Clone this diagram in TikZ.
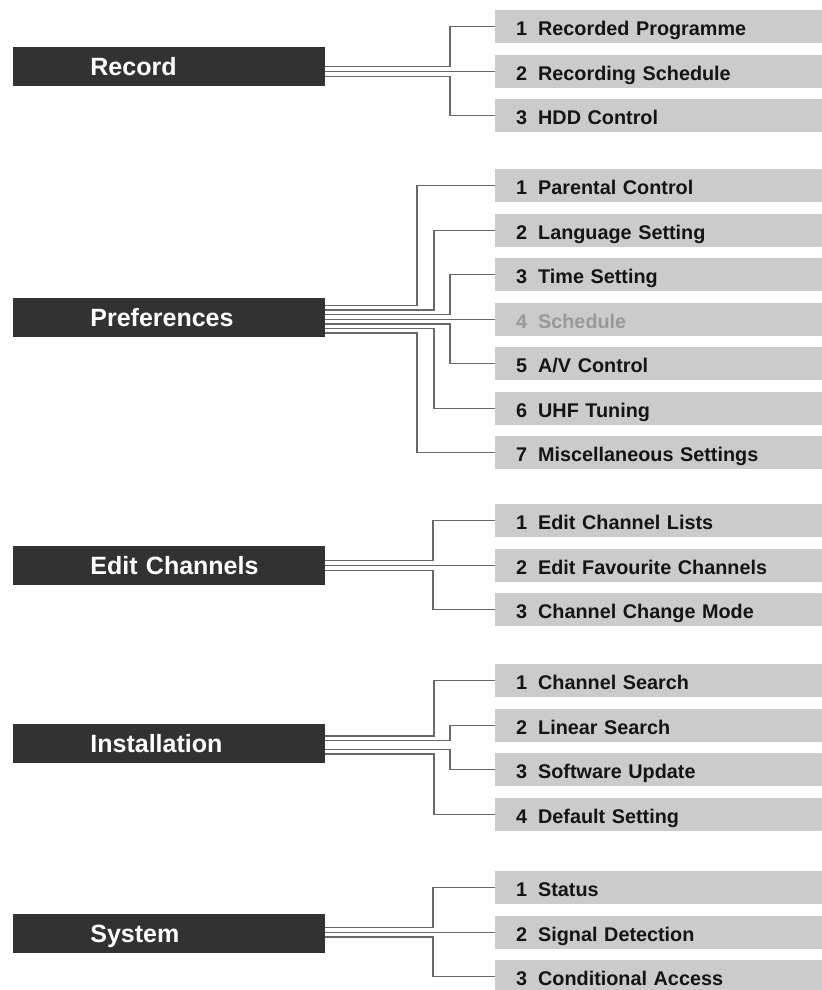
\documentclass[tikz,border=0pt]{standalone}
\usepackage{fontspec}
\setmainfont{Liberation Sans}
\usetikzlibrary{calc}
\definecolor{darkfill}{HTML}{323232}
\definecolor{greyfill}{HTML}{CBCBCB}
\definecolor{connline}{HTML}{686868}
\definecolor{dimtext}{HTML}{999999}
\definecolor{itemtext}{HTML}{141414}
\newcommand{\mnuitem}[2]{\hspace*{21.5bp}\makebox[22bp][l]{#1}#2}
\tikzset{
  darkbox/.style={anchor=north west, fill=darkfill, text=white, inner xsep=0pt, inner ysep=0pt,
    minimum height=38.7bp, text width=312.3bp, align=left,
    font=\fontsize{25bp}{27bp}\selectfont\bfseries, text height=18bp, text depth=0bp},
  greybox/.style={anchor=north west, fill=greyfill, text=itemtext, inner xsep=0pt, inner ysep=0pt,
    minimum height=33bp, text width=327.5bp, align=left,
    font=\fontsize{19.8bp}{21bp}\selectfont\bfseries, text height=18bp, text depth=0bp},
  conn/.style={draw=connline, line width=1.4bp}
}
\begin{document}
\begin{tikzpicture}[x=1bp,y=-1bp]
\useasboundingbox[fill=white] (0,0) rectangle (822,990);

% ---------- Record ----------
\node[darkbox] (rec) at (12.7,47) {\hspace*{77.5bp}Record};
\node[greybox] (r1) at (494.5,10) {\mnuitem{1}{Recorded Programme}};
\node[greybox] (r2) at (494.5,54.5) {\mnuitem{2}{Recording Schedule}};
\node[greybox] (r3) at (494.5,99) {\mnuitem{3}{HDD Control}};
\draw[conn] ($(rec.east |- r2.west)+(0,-5)$) -| ($(r1.west)+(-44.5,0)$) -- (r1.west);
\draw[conn] (rec.east |- r2.west) -- (r2.west);
\draw[conn] ($(rec.east |- r2.west)+(0,5)$) -| ($(r3.west)+(-44.5,0)$) -- (r3.west);

% ---------- Preferences ----------
\node[darkbox] (pref) at (12.7,298) {\hspace*{77.5bp}Preferences};
\node[greybox] (p1) at (494.5,169) {\mnuitem{1}{Parental Control}};
\node[greybox] (p2) at (494.5,213.5) {\mnuitem{2}{Language Setting}};
\node[greybox] (p3) at (494.5,258) {\mnuitem{3}{Time Setting}};
\node[greybox, text=dimtext] (p4) at (494.5,302.5) {\mnuitem{4}{Schedule}};
\node[greybox] (p5) at (494.5,347) {\mnuitem{5}{A/V Control}};
\node[greybox] (p6) at (494.5,391.5) {\mnuitem{6}{UHF Tuning}};
\node[greybox] (p7) at (494.5,436) {\mnuitem{7}{Miscellaneous Settings}};
\draw[conn] ($(pref.east |- p4.west)+(0,-13.8)$) -| ($(p1.west)+(-77.5,0)$) -- (p1.west);
\draw[conn] ($(pref.east |- p4.west)+(0,-9.2)$) -| ($(p2.west)+(-60.5,0)$) -- (p2.west);
\draw[conn] ($(pref.east |- p4.west)+(0,-4.6)$) -| ($(p3.west)+(-44.5,0)$) -- (p3.west);
\draw[conn] (pref.east |- p4.west) -- (p4.west);
\draw[conn] ($(pref.east |- p4.west)+(0,4.6)$) -| ($(p5.west)+(-44.5,0)$) -- (p5.west);
\draw[conn] ($(pref.east |- p4.west)+(0,9.2)$) -| ($(p6.west)+(-60.5,0)$) -- (p6.west);
\draw[conn] ($(pref.east |- p4.west)+(0,13.8)$) -| ($(p7.west)+(-77.5,0)$) -- (p7.west);

% ---------- Edit Channels ----------
\node[darkbox] (edit) at (12.7,545.7) {\hspace*{77.5bp}Edit Channels};
\node[greybox] (e1) at (494.5,504) {\mnuitem{1}{Edit Channel Lists}};
\node[greybox] (e2) at (494.5,548.5) {\mnuitem{2}{Edit Favourite Channels}};
\node[greybox] (e3) at (494.5,593) {\mnuitem{3}{Channel Change Mode}};
\draw[conn] ($(edit.east |- e2.west)+(0,-5)$) -| ($(e1.west)+(-61.5,0)$) -- (e1.west);
\draw[conn] (edit.east |- e2.west) -- (e2.west);
\draw[conn] ($(edit.east |- e2.west)+(0,5)$) -| ($(e3.west)+(-61.5,0)$) -- (e3.west);

% ---------- Installation ----------
\node[darkbox] (inst) at (12.7,724) {\hspace*{77.5bp}Installation};
\node[greybox] (i1) at (494.5,664) {\mnuitem{1}{Channel Search}};
\node[greybox] (i2) at (494.5,708.5) {\mnuitem{2}{Linear Search}};
\node[greybox] (i3) at (494.5,753) {\mnuitem{3}{Software Update}};
\node[greybox] (i4) at (494.5,797.5) {\mnuitem{4}{Default Setting}};
\draw[conn] ($(inst.east)+(0,-7.6)$) -| ($(i1.west)+(-60.5,0)$) -- (i1.west);
\draw[conn] ($(inst.east)+(0,-3)$) -| ($(i2.west)+(-44.5,0)$) -- (i2.west);
\draw[conn] ($(inst.east)+(0,6)$) -| ($(i3.west)+(-44.5,0)$) -- (i3.west);
\draw[conn] ($(inst.east)+(0,10.6)$) -| ($(i4.west)+(-60.5,0)$) -- (i4.west);

% ---------- System ----------
\node[darkbox] (sys) at (12.7,914) {\hspace*{77.5bp}System};
\node[greybox] (s1) at (494.5,871) {\mnuitem{1}{Status}};
\node[greybox] (s2) at (494.5,915.5) {\mnuitem{2}{Signal Detection}};
\node[greybox] (s3) at (494.5,960) {\mnuitem{3}{Conditional Access}};
\draw[conn] ($(sys.east |- s2.west)+(0,-4.6)$) -| ($(s1.west)+(-61.5,0)$) -- (s1.west);
\draw[conn] (sys.east |- s2.west) -- (s2.west);
\draw[conn] ($(sys.east |- s2.west)+(0,4.6)$) -| ($(s3.west)+(-61.5,0)$) -- (s3.west);
\end{tikzpicture}
\end{document}
